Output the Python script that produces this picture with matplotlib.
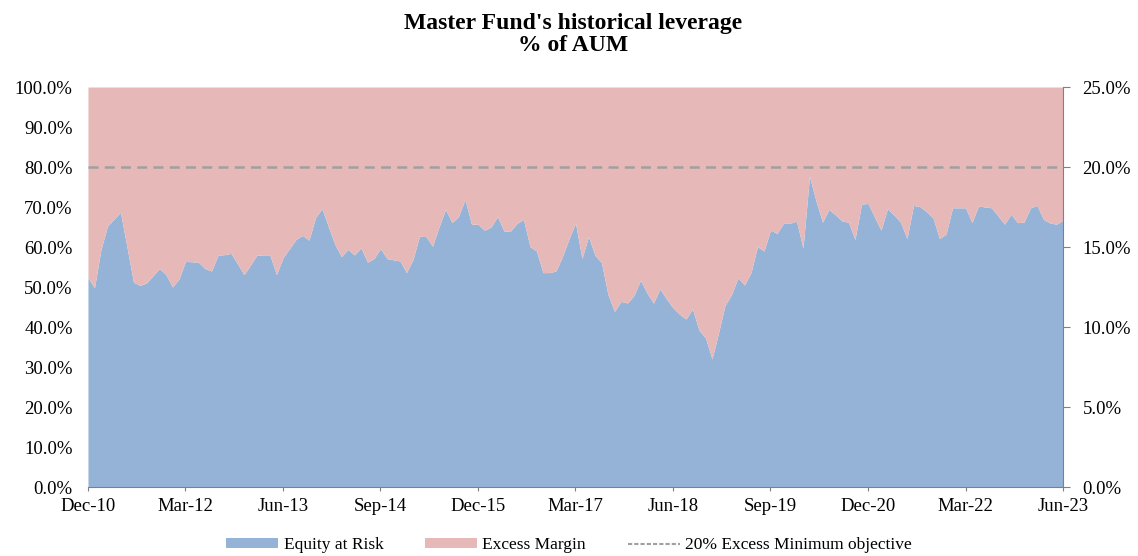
import matplotlib
matplotlib.use("Agg")
import matplotlib.pyplot as plt
from matplotlib.patches import Patch
from matplotlib.lines import Line2D
from matplotlib.ticker import FuncFormatter

plt.rcParams["font.family"] = ["Liberation Serif", "DejaVu Serif"]

# Monthly equity at risk, % of AUM, Dec-10 .. Jun-23
equity_at_risk = [
    52.3, 49.8, 59.4, 65.2, 67.0, 68.7, 60.0, 51.2, 50.4, 51.0,
    52.8, 54.6, 53.1, 50.0, 52.0, 56.4, 56.3, 56.2, 54.6, 54.0,
    57.9, 58.1, 58.4, 55.8, 53.1, 55.5, 58.0, 57.9, 57.9, 53.1,
    57.3, 59.6, 61.9, 62.9, 61.7, 67.3, 69.6, 65.0, 60.6, 57.6,
    59.4, 58.0, 59.8, 56.2, 57.1, 59.6, 57.1, 56.8, 56.5, 53.6,
    56.9, 62.7, 62.6, 60.2, 65.0, 69.4, 66.1, 67.6, 71.9, 65.7,
    65.7, 64.2, 65.0, 67.6, 64.0, 64.0, 65.9, 66.9, 60.1, 59.0,
    53.6, 53.6, 54.0, 57.7, 62.0, 66.0, 57.1, 62.6, 57.9, 56.1,
    48.1, 43.9, 46.4, 46.0, 47.9, 51.7, 48.5, 46.0, 49.5, 47.0,
    44.8, 43.2, 42.0, 44.5, 39.2, 37.3, 32.0, 38.5, 45.4, 48.1,
    52.3, 50.5, 53.6, 60.1, 59.0, 64.2, 63.4, 65.9, 65.9, 66.5,
    59.7, 77.7, 71.5, 66.2, 69.4, 68.0, 66.5, 66.2, 61.9, 70.7,
    70.9, 67.5, 64.2, 69.6, 68.0, 66.2, 62.1, 70.4, 70.1, 68.8,
    67.3, 62.1, 63.2, 69.8, 69.8, 69.8, 66.1, 70.3, 70.0, 69.8,
    67.8, 65.7, 68.2, 66.1, 66.2, 69.8, 70.4, 66.9, 66.0, 65.7,
    66.7,
]
total_pct = 100.0
min_objective = 20.0  # % excess, right axis
tick_labels = ["Dec-10", "Mar-12", "Jun-13", "Sep-14", "Dec-15", "Mar-17",
               "Jun-18", "Sep-19", "Dec-20", "Mar-22", "Jun-23"]

BLUE = "#95B3D7"
PINK = "#E6B9B8"
GREY = "#A0A0A0"

months = list(range(len(equity_at_risk)))
top = [total_pct] * len(months)

fig = plt.figure(figsize=(11.38, 5.56), dpi=100)
ax = fig.add_axes([0.0773, 0.1241, 0.8568, 0.7194])

ax.fill_between(months, 0, equity_at_risk, color=BLUE, linewidth=0)
ax.fill_between(months, equity_at_risk, top, color=PINK, linewidth=0)

ax.set_xlim(0, months[-1])
ax.set_ylim(0, 100)
ax.set_yticks(range(0, 101, 10))
ax.yaxis.set_major_formatter(FuncFormatter(lambda v, p: f"{v:.1f}%"))
ax.set_xticks(months[::15])
ax.set_xticklabels(tick_labels)
ax.tick_params(axis="y", length=0, labelsize=13.5, pad=11)
ax.tick_params(axis="x", length=3, color="#808080", labelsize=13.5, pad=5)
for s in ["top", "left", "right"]:
    ax.spines[s].set_visible(False)
ax.spines["bottom"].set_color("#808080")

# right axis for excess margin objective
ax2 = ax.twinx()
ax2.set_ylim(0, 25)
ax2.set_yticks([0, 5, 10, 15, 20, 25])
ax2.yaxis.set_major_formatter(FuncFormatter(lambda v, p: f"{v:.1f}%"))
ax2.axhline(min_objective, color=GREY, linestyle=(0, (4, 2.5)), linewidth=1.8)
ax2.tick_params(axis="y", length=5, color="#808080", labelsize=13.5, pad=9)
for s in ["top", "left", "bottom"]:
    ax2.spines[s].set_visible(False)
ax2.spines["right"].set_color("#808080")

fig.text(0.504, 0.977, "Master Fund's historical leverage\n% of AUM",
         ha="center", va="top", fontsize=17, fontweight="bold",
         linespacing=1.1)

handles = [
    Patch(facecolor=BLUE, edgecolor="none", label="Equity at Risk"),
    Patch(facecolor=PINK, edgecolor="none", label="Excess Margin"),
    Line2D([0], [0], color=GREY, linestyle=(0, (2, 1)), lw=1.5,
           label="20% Excess Minimum objective"),
]
fig.legend(handles=handles, loc="lower center", ncol=3, frameon=False,
           fontsize=12.5, bbox_to_anchor=(0.5, -0.014), borderpad=0.1,
           handlelength=3.0, handleheight=0.55, columnspacing=2.4,
           handletextpad=0.3)

fig.savefig("out.png", dpi=100)
